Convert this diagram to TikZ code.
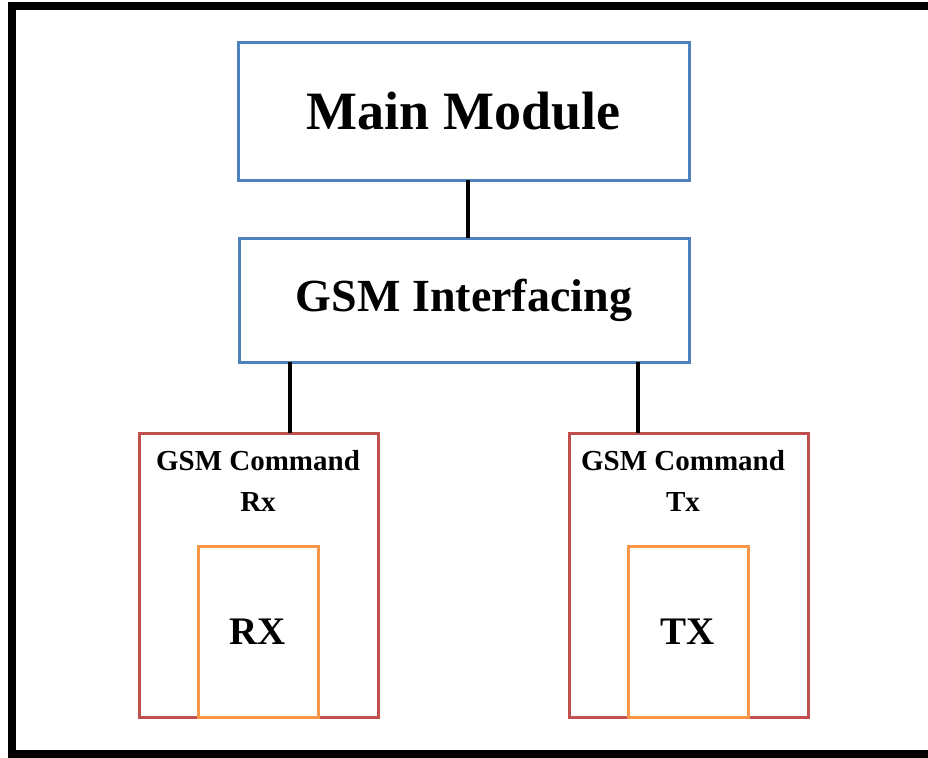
\documentclass[tikz,border=0pt]{standalone}
\usepackage{fontspec}
\setmainfont{Liberation Serif}
\usepackage{tikz}
\usetikzlibrary{shapes,arrows,positioning,calc}

\definecolor{boxblue}{HTML}{4F81BD}
\definecolor{boxred}{HTML}{C0504D}
\definecolor{boxorange}{HTML}{F79646}

\tikzset{
  modbox/.style={draw=boxblue,line width=3pt,inner sep=0pt,outer sep=0pt,font=\bfseries},
  cmdbox/.style={draw=boxred,line width=3pt,inner sep=0pt,outer sep=0pt,minimum width=239pt,minimum height=284pt},
  portbox/.style={draw=boxorange,line width=3pt,inner sep=0pt,outer sep=0pt,minimum width=120pt,minimum height=171pt,font=\bfseries\fontsize{39}{44}\selectfont},
  link/.style={line width=4pt,black}
}

\begin{document}
\begin{tikzpicture}[x=1pt,y=-1pt]
    \useasboundingbox (0,0) rectangle (928,757);

    % Outer frame
    \draw[line width=8pt] (928,6) -- (12,6) -- (12,754) -- (928,754);

    % Top modules
    \node[modbox,minimum width=451pt,minimum height=137pt,font=\bfseries\fontsize{54}{60}\selectfont] (main) at (463.5,111.5) {Main Module};
    \node[modbox,minimum width=450pt,minimum height=124pt,font=\bfseries\fontsize{46}{52}\selectfont] (gsm) at (464,300) {GSM Interfacing};

    % Command blocks
    \node[cmdbox] (cmdrx) at (258.5,575) {};
    \node[cmdbox] (cmdtx) at (688.5,575) {};
    \node[align=center,font=\bfseries\fontsize{29}{41}\selectfont,anchor=north] (rxlabel) at (258,447) {GSM Command\\Rx};
    \node[align=center,font=\bfseries\fontsize{29}{41}\selectfont,anchor=north] (txlabel) at (683,447) {GSM Command\\Tx};

    % Ports
    \node[portbox] (rx) at (258,631.5) {RX};
    \node[portbox] (tx) at (688,631.5) {TX};

    % Links
    \coordinate (rxtop) at ($(cmdrx.north)+(31.5,0)$);
    \coordinate (txtop) at ($(cmdtx.north)+(-50.5,0)$);
    \draw[link] ($(main.south)+(4.5,0)$) -- ($(gsm.north)+(4,0)$);
    \draw[link] (rxtop |- gsm.south) -- (rxtop);
    \draw[link] (txtop |- gsm.south) -- (txtop);
\end{tikzpicture}
\end{document}
